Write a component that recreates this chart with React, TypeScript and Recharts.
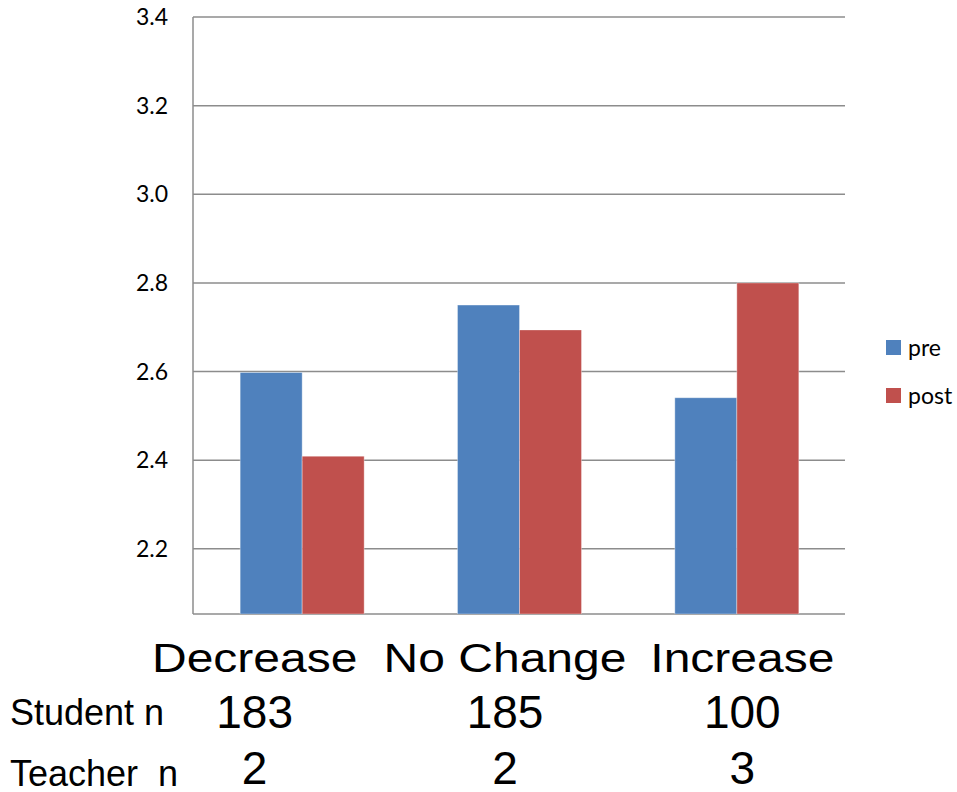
import React from "react"
import { BarChart, Bar, XAxis, YAxis, CartesianGrid } from "recharts"

const categories = ["Decrease", "No Change", "Increase"]
const preValues = [2.598, 2.75, 2.541]
const postValues = [2.409, 2.694, 2.8]
const studentN = ["183", "185", "100"]
const teacherN = ["2", "2", "3"]
const yTicks = [2.2, 2.4, 2.6, 2.8, 3.0, 3.2, 3.4]

const BLUE = "#4F81BD"
const RED = "#C0504D"

// group labels sit a little off the bar groups
const LABEL_SHIFT = [-47, -14, 6]

const data = categories.map((name, i) => ({
    name,
    pre: preValues[i],
    post: postValues[i],
    student: studentN[i],
    teacher: teacherN[i],
}))

function CategoryTick(props: any) {
    const { x, y, index, payload } = props
    const cx = x + LABEL_SHIFT[index]
    const row = data[index]
    return (
        <g fontFamily="'Liberation Sans', Arial, sans-serif" fill="#000">
            <text
                x={0}
                y={0}
                textAnchor="middle"
                fontSize={40}
                transform={`translate(${cx},${y + 50}) scale(1.2,1)`}
            >
                {payload.value}
            </text>
            <text x={cx} y={y + 106} textAnchor="middle" fontSize={46}>
                {row.student}
            </text>
            <text x={cx} y={y + 162} textAnchor="middle" fontSize={46}>
                {row.teacher}
            </text>
            {index === 0 && (
                <>
                    <text x={10} y={y + 103} fontSize={36}>Student n</text>
                    <text x={10} y={y + 164} fontSize={36} style={{ whiteSpace: "pre" }}>
                        {"Teacher  n"}
                    </text>
                </>
            )}
        </g>
    )
}

const legendItems = [
    { label: "pre", color: BLUE },
    { label: "post", color: RED },
]

export default function App() {
    return (
        <div style={{ position: "fixed", left: 0, top: 0, width: 957, height: 792, background: "#fff" }}>
            <BarChart
                width={957}
                height={792}
                data={data}
                margin={{ top: 17, right: 112, bottom: 148, left: 133 }}
                barCategoryGap="21.7%"
                barGap={0}
            >
                <CartesianGrid vertical={false} stroke="#8c8c8c" strokeWidth={1.5} />
                <XAxis
                    dataKey="name"
                    height={30}
                    axisLine={false}
                    tickLine={false}
                    interval={0}
                    tick={<CategoryTick />}
                />
                <YAxis
                    width={60}
                    domain={[2.053, 3.4]}
                    ticks={yTicks}
                    allowDataOverflow
                    tickFormatter={(v: number) => v.toFixed(1)}
                    axisLine={{ stroke: "#8c8c8c", strokeWidth: 1.5 }}
                    tickLine={false}
                    tickSize={0}
                    tickMargin={25}
                    tick={{ fill: "#000", fontSize: 23, fontFamily: "Lato, sans-serif" }}
                />
                <Bar dataKey="pre" fill={BLUE} stroke="#ffffff" strokeOpacity={0.35} isAnimationActive={false} />
                <Bar dataKey="post" fill={RED} stroke="#ffffff" strokeOpacity={0.35} isAnimationActive={false} />
            </BarChart>
            <div
                style={{
                    position: "absolute",
                    left: 886,
                    top: 323,
                    width: 71,
                    whiteSpace: "nowrap",
                    fontFamily: "Lato, sans-serif",
                    fontSize: 23,
                }}
            >
                {legendItems.map(it => (
                    <div key={it.label} style={{ display: "flex", alignItems: "center", height: 48 }}>
                        <span style={{ width: 15, height: 15, flex: "none", background: it.color, marginRight: 7 }} />
                        <span>{it.label}</span>
                    </div>
                ))}
            </div>
        </div>
    )
}
